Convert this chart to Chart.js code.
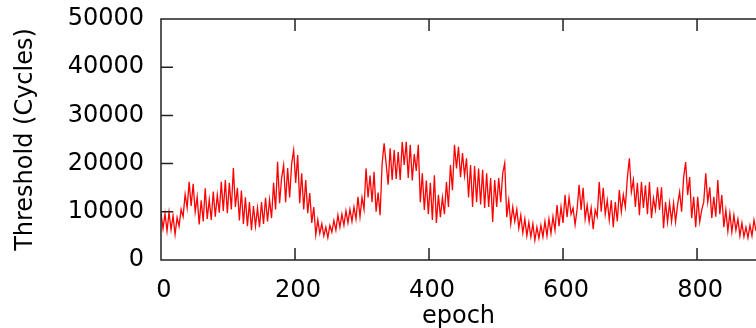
<!DOCTYPE html>
<html>
<head>
<meta charset="utf-8">
<script src="https://cdn.jsdelivr.net/npm/chart.js@4/dist/chart.umd.min.js"></script>
<style>
  html, body { margin: 0; padding: 0; background: #fff; overflow: hidden; }
  #wrap { width: 756px; height: 328px; }
</style>
</head>
<body>
<div id="wrap"><canvas id="chart" width="756" height="328"></canvas></div>
<script>
const EPOCH_STEP = 3;
const thresholdK = [
  9.8,6.5,9.6,6.0,9.9,6.3,9.2,5.3,8.8,7.0,10.5,9.0,13.6,10.8,16.2,11.2,15.8,10.0,13.1,7.4,
  12.4,8.0,14.9,8.5,12.5,8.3,14.2,9.0,13.5,9.8,16.2,10.2,16.6,9.7,16.0,10.5,19.1,11.0,15.0,8.2,
  14.4,7.5,13.0,7.0,12.0,6.2,11.2,7.0,10.8,6.8,12.0,7.5,12.9,8.0,12.5,8.7,16.0,10.5,20.4,11.8,
  17.0,19.7,12.0,19.1,13.0,20.0,22.8,16.0,21.8,11.8,18.0,10.5,16.6,9.7,13.9,7.7,11.0,5.2,8.3,5.5,
  7.5,5.0,6.8,4.6,7.2,5.8,8.2,6.2,9.3,6.8,9.5,7.2,10.2,7.7,10.5,8.0,11.0,8.5,13.1,8.9,
  13.0,10.5,19.0,13.0,17.5,12.0,18.3,10.0,14.0,9.3,20.0,24.2,20.0,15.6,23.2,16.6,22.8,16.8,22.4,16.6,
  24.5,19.7,24.5,17.0,23.9,16.5,22.0,18.5,23.9,12.0,18.0,10.4,16.5,9.5,16.0,8.3,17.6,7.7,13.5,8.9,
  13.0,9.5,16.2,11.0,19.7,14.5,23.9,19.0,23.5,17.2,22.2,17.5,21.1,13.0,19.7,11.0,19.5,12.0,19.0,11.5,
  18.7,10.8,18.0,11.0,17.0,7.9,16.6,11.0,17.0,12.0,18.0,20.1,8.9,12.4,7.5,11.0,8.0,10.5,6.6,9.3,
  5.6,8.5,5.0,7.8,4.8,7.5,4.1,6.8,4.5,7.2,4.8,8.0,5.0,8.5,5.5,9.0,6.2,11.4,7.0,11.0,
  7.7,13.5,8.9,13.0,9.5,10.8,7.3,10.5,15.6,10.4,15.0,8.5,11.4,7.9,10.8,6.4,10.4,9.0,16.2,10.0,
  15.0,9.5,12.4,8.3,12.4,6.8,12.0,8.0,14.5,10.0,13.5,11.0,17.0,21.1,14.1,16.6,11.0,16.0,9.3,16.2,
  10.8,15.5,9.5,16.2,8.7,12.8,10.4,15.1,10.4,15.1,6.6,12.0,7.9,11.8,8.0,11.8,7.9,11.5,14.1,10.0,
  17.2,20.3,13.5,17.2,8.7,13.1,6.8,13.1,7.9,10.4,12.0,18.0,12.0,15.1,8.7,13.1,9.0,16.6,9.5,13.5,
  6.8,10.4,6.0,9.7,5.8,9.3,6.2,8.5,5.0,7.7,4.8,6.8,4.6,7.2,5.0,8.3,6.0,9.7
];
const xTicks = [0, 200, 400, 600, 800];
const yTicks = [0, 10000, 20000, 30000, 40000, 50000];

const points = thresholdK.map((v, i) => ({ x: i * EPOCH_STEP, y: v * 1000 }));

const FONT = { family: "DejaVu Sans", size: 24 };

// gnuplot-like frame with inward tick marks
const frame = {
  id: "frame",
  afterDraw(chart) {
    const { ctx, chartArea: a, scales } = chart;
    ctx.save();
    ctx.strokeStyle = "#222";
    ctx.lineWidth = 1.5;
    ctx.beginPath();
    ctx.moveTo(a.right + 2, a.top);
    ctx.lineTo(a.left, a.top);
    ctx.lineTo(a.left, a.bottom);
    ctx.lineTo(a.right + 2, a.bottom);
    yTicks.forEach((t) => {
      const y = scales.y.getPixelForValue(t);
      ctx.moveTo(a.left, y);
      ctx.lineTo(a.left + 12, y);
    });
    xTicks.forEach((t) => {
      const x = scales.x.getPixelForValue(t);
      ctx.moveTo(x, a.bottom);
      ctx.lineTo(x, a.bottom - 12);
      ctx.moveTo(x, a.top);
      ctx.lineTo(x, a.top + 12);
    });
    ctx.stroke();
    ctx.restore();
  },
};

new Chart(document.getElementById("chart"), {
  type: "line",
  data: {
    datasets: [
      {
        data: points,
        borderColor: "#ff0000",
        borderWidth: 1.3,
        pointRadius: 0,
        tension: 0,
        fill: false,
      },
    ],
  },
  options: {
    responsive: false,
    animation: false,
    devicePixelRatio: 1,
    layout: { padding: { top: 19, right: 0, left: 0, bottom: 0 } },
    plugins: { legend: { display: false }, tooltip: { enabled: false } },
    scales: {
      x: {
        type: "linear",
        min: 0,
        max: 888,
        grid: { display: false },
        border: { display: false },
        afterFit: (s) => { s.height = 68; },
        afterBuildTicks: (s) => { s.ticks = xTicks.map((v) => ({ value: v })); },
        ticks: { font: FONT, color: "#000", padding: 8, maxRotation: 0, labelOffset: 3 },
        title: { display: true, text: "epoch", font: FONT, color: "#000", padding: { top: 0, bottom: -3 } },
      },
      y: {
        min: 0,
        max: 50000,
        grid: { display: false },
        border: { display: false },
        afterFit: (s) => { s.width = 161; s.paddingTop = 0; },
        afterBuildTicks: (s) => { s.ticks = yTicks.map((v) => ({ value: v })); },
        ticks: { font: FONT, color: "#000", padding: 9, callback: (v) => String(v) },
        title: { display: true, text: "Threshold (Cycles)", font: FONT, color: "#000", padding: { top: 11, bottom: 0 } },
      },
    },
  },
  plugins: [frame],
});
</script>
</body>
</html>
